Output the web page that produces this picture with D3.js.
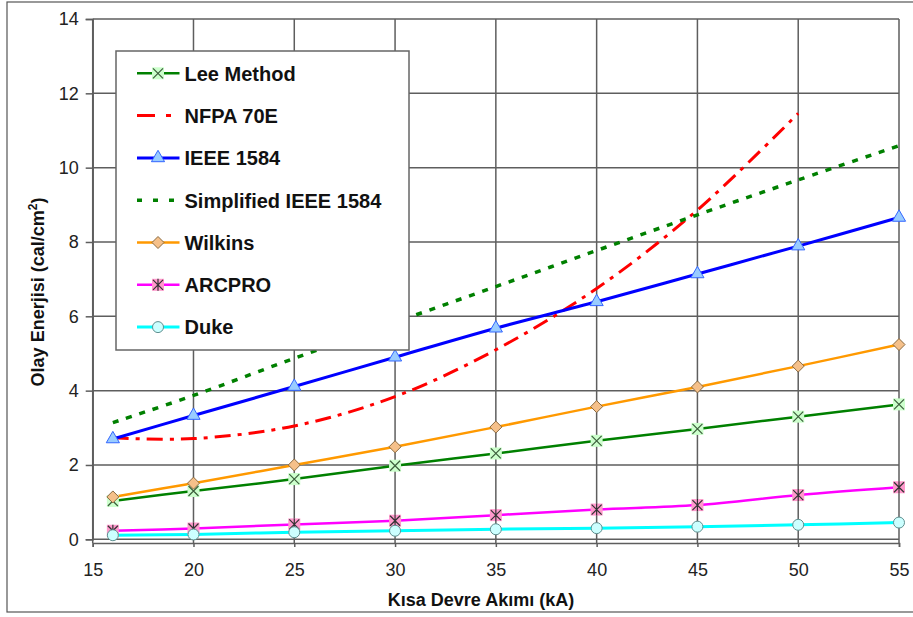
<!DOCTYPE html>
<meta charset="utf-8">
<html>
<head>
<script src="https://d3js.org/d3.v7.min.js"></script>
<style>
  body { margin: 0; background: #fff; }
  text { font-family: "Liberation Sans", Arial, sans-serif; }
</style>
</head>
<body>
<svg id="chart" width="913" height="617"></svg>
<script>

// Data
var currents = [16, 20, 25, 30, 35, 40, 45, 50, 55];
var leeMethod = [1.03, 1.30, 1.62, 1.98, 2.31, 2.65, 2.97, 3.30, 3.63];
var nfpa70e = [2.73, 2.71, 3.05, 3.84, 5.10, 6.75, 8.86, 11.46];
var ieee1584 = [2.70, 3.33, 4.11, 4.90, 5.68, 6.39, 7.14, 7.89, 8.66];
var simplifiedIeee = [3.14, 3.87, 4.87, 5.84, 6.80, 7.77, 8.73, 9.67, 10.59];
var wilkins = [1.14, 1.51, 2.00, 2.49, 3.02, 3.57, 4.10, 4.66, 5.24];
var arcpro = [0.23, 0.29, 0.40, 0.50, 0.65, 0.80, 0.92, 1.19, 1.40];
var duke = [0.11, 0.13, 0.19, 0.23, 0.27, 0.30, 0.34, 0.39, 0.45];

var xTicks = [15, 20, 25, 30, 35, 40, 45, 50, 55];
var yTicks = [0, 2, 4, 6, 8, 10, 12, 14];

var series = [
  { name: "Lee Method", values: leeMethod, color: "#008000", width: 2.5, dash: null, legendDash: null, marker: "x" },
  { name: "NFPA 70E", values: nfpa70e, color: "#ff0000", width: 3, dash: "16,7,4,7", legendDash: "18,11,5,20", marker: null },
  { name: "IEEE 1584", values: ieee1584, color: "#0000ff", width: 3, dash: null, legendDash: null, marker: "triangle" },
  { name: "Simplified IEEE 1584", values: simplifiedIeee, color: "#008000", width: 3.5, dash: "6,8", legendDash: "5,11", marker: null },
  { name: "Wilkins", values: wilkins, color: "#ff9900", width: 2.5, dash: null, legendDash: null, marker: "diamond" },
  { name: "ARCPRO", values: arcpro, color: "#ff00ff", width: 2.5, dash: null, legendDash: null, marker: "star" },
  { name: "Duke", values: duke, color: "#00ffff", width: 3, dash: null, legendDash: null, marker: "circle" }
];

var svg = d3.select("#chart");

// outer frame
svg.append("rect")
  .attr("x", 7).attr("y", 2)
  .attr("width", 930).attr("height", 610)
  .attr("fill", "none")
  .attr("stroke", "#555")
  .attr("stroke-width", 1.2);

var x = d3.scaleLinear().domain([15, 55]).range([92.7, 899]);
var y = d3.scaleLinear().domain([0, 14]).range([539.3, 19]);

var gridColor = "#5e5e5e";

// grid
var grid = svg.append("g");
grid.selectAll(".vgrid")
  .data(xTicks)
  .enter().append("line")
    .attr("x1", function(d) { return x(d); })
    .attr("x2", function(d) { return x(d); })
    .attr("y1", y(14))
    .attr("y2", 543)
    .attr("stroke", gridColor)
    .attr("stroke-width", 1.5);
grid.selectAll(".hgrid")
  .data(yTicks)
  .enter().append("line")
    .attr("x1", x(15))
    .attr("x2", x(55))
    .attr("y1", function(d) { return y(d); })
    .attr("y2", function(d) { return y(d); })
    .attr("stroke", gridColor)
    .attr("stroke-width", 1.5);

// axes
var xAxis = svg.append("g")
  .attr("transform", "translate(0,543)")
  .call(d3.axisBottom(x).tickValues(xTicks).tickSize(4).tickPadding(16));
var yAxis = svg.append("g")
  .attr("transform", "translate(" + x(15) + ",0)")
  .call(d3.axisLeft(y).tickValues(yTicks).tickSize(7).tickPadding(7));

[xAxis, yAxis].forEach(function(a) {
  a.select(".domain").attr("stroke", gridColor).attr("stroke-width", 1.5);
  a.selectAll(".tick line").attr("stroke", gridColor).attr("stroke-width", 1.5);
  a.selectAll(".tick text")
    .attr("fill", "#222")
    .style("font-size", "18px")
    .style("font-family", "'Liberation Sans', Arial, sans-serif");
});

// lines
var line = d3.line()
  .x(function(d) { return x(d[0]); })
  .y(function(d) { return y(d[1]); })
  .curve(d3.curveCatmullRom.alpha(0.5));

function points(s) {
  return s.values.map(function(v, i) { return [currents[i], v]; });
}

var lines = svg.append("g");
series.forEach(function(s) {
  lines.append("path")
    .datum(points(s))
    .attr("d", line)
    .attr("fill", "none")
    .attr("stroke", s.color)
    .attr("stroke-width", s.width)
    .attr("stroke-dasharray", s.dash);
});

// markers
function drawMarker(g, type, cx, cy) {
  var m = g.append("g").attr("transform", "translate(" + cx + "," + cy + ")");
  if (type === "x") {
    m.append("rect").attr("x", -6).attr("y", -6).attr("width", 12).attr("height", 12)
      .attr("fill", "#ccffcc");
    m.append("path").attr("d", "M-5,-5L5,5M-5,5L5,-5")
      .attr("stroke", "#3b5e3b").attr("stroke-width", 1.2);
  } else if (type === "triangle") {
    m.append("path").attr("d", d3.symbol().type(d3.symbolTriangle).size(75)())
      .attr("fill", "#99ccff").attr("stroke", "#3366ff").attr("stroke-width", 1);
  } else if (type === "diamond") {
    m.append("path").attr("d", "M0,-6L6,0L0,6L-6,0Z")
      .attr("fill", "#f5c08a").attr("stroke", "#8a6a40").attr("stroke-width", 1);
  } else if (type === "star") {
    m.append("rect").attr("x", -6).attr("y", -6).attr("width", 12).attr("height", 12)
      .attr("fill", "#ff99cc");
    m.append("path").attr("d", "M-5,-5L5,5M-5,5L5,-5M0,-6L0,6")
      .attr("stroke", "#333").attr("stroke-width", 1.2);
  } else if (type === "circle") {
    m.append("circle").attr("r", 5.5)
      .attr("fill", "#ccffff").attr("stroke", "#5f8f8f").attr("stroke-width", 1);
  }
}

var markers = svg.append("g");
series.forEach(function(s) {
  if (!s.marker) return;
  points(s).forEach(function(p) {
    drawMarker(markers, s.marker, x(p[0]), y(p[1]));
  });
});

// legend
var legend = svg.append("g");
legend.append("rect")
  .attr("x", 116).attr("y", 51)
  .attr("width", 293).attr("height", 299)
  .attr("fill", "#fff")
  .attr("stroke", "#666")
  .attr("stroke-width", 1.5);

series.forEach(function(s, i) {
  var ly = 73.3 + i * 42.3;
  legend.append("line")
    .attr("x1", 137).attr("x2", 179.5)
    .attr("y1", ly).attr("y2", ly)
    .attr("stroke", s.color)
    .attr("stroke-width", s.width)
    .attr("stroke-dasharray", s.legendDash);
  if (s.marker) drawMarker(legend, s.marker, 158, ly);
  legend.append("text")
    .attr("x", 184.5)
    .attr("y", ly + 7.3)
    .attr("fill", "#111")
    .style("font-size", "20px")
    .style("font-weight", "bold")
    .text(s.name);
});

// axis titles
svg.append("text")
  .attr("x", 481)
  .attr("y", 606)
  .attr("text-anchor", "middle")
  .attr("fill", "#111")
  .style("font-size", "18px")
  .style("font-weight", "bold")
  .text("Kısa Devre Akımı (kA)");

var yt = svg.append("text")
  .attr("transform", "translate(43.5,292) rotate(-90)")
  .attr("text-anchor", "middle")
  .attr("fill", "#111")
  .style("font-size", "18px")
  .style("font-weight", "bold");
yt.append("tspan").text("Olay Enerjisi (cal/cm");
yt.append("tspan").attr("dy", -7).style("font-size", "12px").text("2");
yt.append("tspan").attr("dy", 7).text(")");

</script>
</body>
</html>
